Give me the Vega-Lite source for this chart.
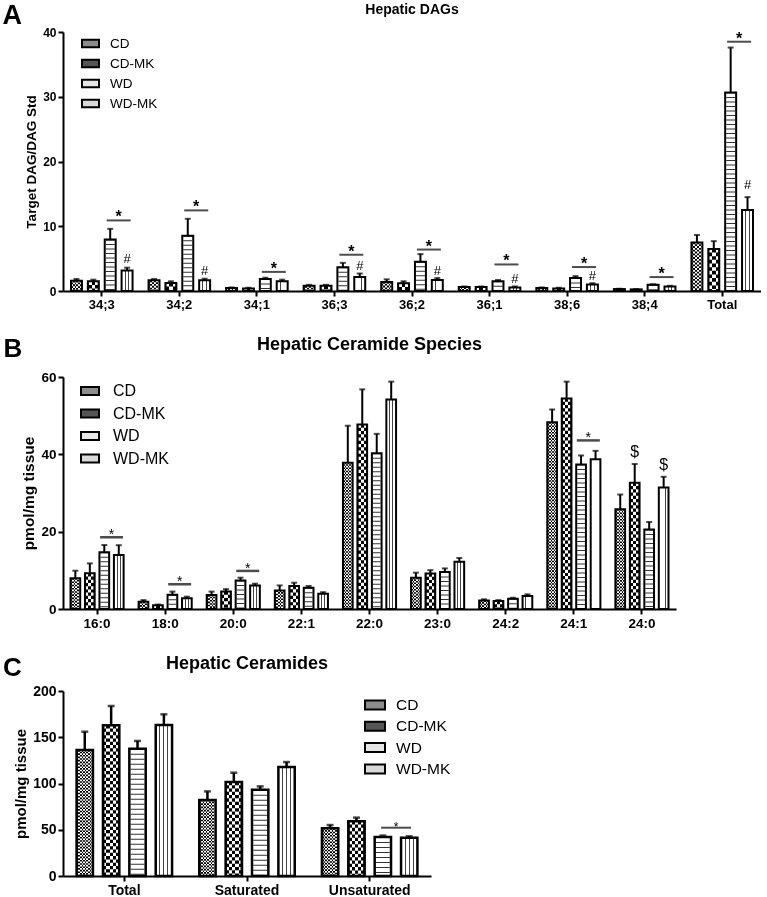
{
"$schema": "https://vega.github.io/schema/vega-lite/v6.json",
"background": "white",
"padding": {"left": 2, "top": 2, "right": 0, "bottom": 0},
"config": {
 "font": "Liberation Sans",
 "view": {"stroke": null},
 "axis": {"domainColor": "#000", "domainWidth": 2, "tickColor": "#000", "tickWidth": 2, "tickSize": 5, "labelColor": "#000", "labelFontWeight": "bold", "titleColor": "#000", "titleFontWeight": "bold", "grid": false, "labelFont": "Liberation Sans", "titleFont": "Liberation Sans"},
 "legend": {"labelFont": "Liberation Sans", "labelColor": "#000", "symbolStrokeColor": "#000", "symbolStrokeWidth": 2, "padding": 0},
 "title": {"font": "Liberation Sans", "color": "#000", "fontWeight": "bold"}
},
"datasets": {
 "dagBars": [
  {"cat": "34;3", "group": "CD", "value": 1.6, "upper": 1.85},
  {"cat": "34;3", "group": "CD-MK", "value": 1.5, "upper": 1.75},
  {"cat": "34;3", "group": "WD", "value": 7.95, "upper": 9.6},
  {"cat": "34;3", "group": "WD-MK", "value": 3.15, "upper": 3.6},
  {"cat": "34;2", "group": "CD", "value": 1.65, "upper": 1.85},
  {"cat": "34;2", "group": "CD-MK", "value": 1.25, "upper": 1.5},
  {"cat": "34;2", "group": "WD", "value": 8.55, "upper": 11.15},
  {"cat": "34;2", "group": "WD-MK", "value": 1.65, "upper": 1.9},
  {"cat": "34;1", "group": "CD", "value": 0.45, "upper": 0.55},
  {"cat": "34;1", "group": "CD-MK", "value": 0.4, "upper": 0.5},
  {"cat": "34;1", "group": "WD", "value": 1.85, "upper": 2.05},
  {"cat": "34;1", "group": "WD-MK", "value": 1.5, "upper": 1.75},
  {"cat": "36;3", "group": "CD", "value": 0.8, "upper": 0.95},
  {"cat": "36;3", "group": "CD-MK", "value": 0.8, "upper": 0.95},
  {"cat": "36;3", "group": "WD", "value": 3.65, "upper": 4.35},
  {"cat": "36;3", "group": "WD-MK", "value": 2.15, "upper": 2.7},
  {"cat": "36;2", "group": "CD", "value": 1.4, "upper": 1.8},
  {"cat": "36;2", "group": "CD-MK", "value": 1.2, "upper": 1.5},
  {"cat": "36;2", "group": "WD", "value": 4.5, "upper": 5.7},
  {"cat": "36;2", "group": "WD-MK", "value": 1.7, "upper": 2.0},
  {"cat": "36;1", "group": "CD", "value": 0.6, "upper": 0.7},
  {"cat": "36;1", "group": "CD-MK", "value": 0.6, "upper": 0.7},
  {"cat": "36;1", "group": "WD", "value": 1.5, "upper": 1.7},
  {"cat": "36;1", "group": "WD-MK", "value": 0.55, "upper": 0.7},
  {"cat": "38;6", "group": "CD", "value": 0.45, "upper": 0.55},
  {"cat": "38;6", "group": "CD-MK", "value": 0.4, "upper": 0.5},
  {"cat": "38;6", "group": "WD", "value": 2.0, "upper": 2.3},
  {"cat": "38;6", "group": "WD-MK", "value": 1.0, "upper": 1.2},
  {"cat": "38;4", "group": "CD", "value": 0.3, "upper": 0.35},
  {"cat": "38;4", "group": "CD-MK", "value": 0.25, "upper": 0.3},
  {"cat": "38;4", "group": "WD", "value": 0.95, "upper": 1.05},
  {"cat": "38;4", "group": "WD-MK", "value": 0.7, "upper": 0.8},
  {"cat": "Total", "group": "CD", "value": 7.5, "upper": 8.65},
  {"cat": "Total", "group": "CD-MK", "value": 6.5, "upper": 7.7},
  {"cat": "Total", "group": "WD", "value": 30.65, "upper": 37.6},
  {"cat": "Total", "group": "WD-MK", "value": 12.5, "upper": 14.5}
 ],
 "dagStar": [
  {"cat": "34;3", "y": 10.9}, {"cat": "34;2", "y": 12.45}, {"cat": "34;1", "y": 2.95},
  {"cat": "36;3", "y": 5.6}, {"cat": "36;2", "y": 6.4}, {"cat": "36;1", "y": 4.1},
  {"cat": "38;6", "y": 3.7}, {"cat": "38;4", "y": 2.15}, {"cat": "Total", "y": 38.5}
 ],
 "dagHash": [
  {"cat": "34;3", "group": "WD-MK", "y": 4.95}, {"cat": "34;2", "group": "WD-MK", "y": 3.05},
  {"cat": "36;3", "group": "WD-MK", "y": 3.8}, {"cat": "36;2", "group": "WD-MK", "y": 3.05},
  {"cat": "36;1", "group": "WD-MK", "y": 1.9}, {"cat": "38;6", "group": "WD-MK", "y": 2.25},
  {"cat": "Total", "group": "WD-MK", "y": 16.3}
 ],
 "cerBars": [
  {"cat": "16:0", "group": "CD", "value": 7.95, "upper": 9.9},
  {"cat": "16:0", "group": "CD-MK", "value": 9.25, "upper": 11.8},
  {"cat": "16:0", "group": "WD", "value": 14.65, "upper": 16.55},
  {"cat": "16:0", "group": "WD-MK", "value": 13.95, "upper": 16.5},
  {"cat": "18:0", "group": "CD", "value": 1.85, "upper": 2.3},
  {"cat": "18:0", "group": "CD-MK", "value": 1.0, "upper": 1.15},
  {"cat": "18:0", "group": "WD", "value": 3.7, "upper": 4.5},
  {"cat": "18:0", "group": "WD-MK", "value": 2.75, "upper": 3.2},
  {"cat": "20:0", "group": "CD", "value": 3.6, "upper": 4.5},
  {"cat": "20:0", "group": "CD-MK", "value": 4.5, "upper": 5.15},
  {"cat": "20:0", "group": "WD", "value": 7.35, "upper": 8.1},
  {"cat": "20:0", "group": "WD-MK", "value": 6.1, "upper": 6.55},
  {"cat": "22:1", "group": "CD", "value": 4.8, "upper": 6.1},
  {"cat": "22:1", "group": "CD-MK", "value": 5.95, "upper": 6.8},
  {"cat": "22:1", "group": "WD", "value": 5.5, "upper": 5.95},
  {"cat": "22:1", "group": "WD-MK", "value": 3.95, "upper": 4.35},
  {"cat": "22:0", "group": "CD", "value": 37.85, "upper": 47.4},
  {"cat": "22:0", "group": "CD-MK", "value": 47.7, "upper": 56.8},
  {"cat": "22:0", "group": "WD", "value": 40.3, "upper": 45.3},
  {"cat": "22:0", "group": "WD-MK", "value": 54.2, "upper": 58.8},
  {"cat": "23:0", "group": "CD", "value": 8.1, "upper": 9.4},
  {"cat": "23:0", "group": "CD-MK", "value": 9.2, "upper": 10.05},
  {"cat": "23:0", "group": "WD", "value": 9.6, "upper": 10.5},
  {"cat": "23:0", "group": "WD-MK", "value": 12.2, "upper": 13.2},
  {"cat": "24:2", "group": "CD", "value": 2.2, "upper": 2.5},
  {"cat": "24:2", "group": "CD-MK", "value": 2.05, "upper": 2.3},
  {"cat": "24:2", "group": "WD", "value": 2.65, "upper": 2.9},
  {"cat": "24:2", "group": "WD-MK", "value": 3.35, "upper": 3.8},
  {"cat": "24:1", "group": "CD", "value": 48.3, "upper": 51.6},
  {"cat": "24:1", "group": "CD-MK", "value": 54.45, "upper": 58.8},
  {"cat": "24:1", "group": "WD", "value": 37.4, "upper": 39.7},
  {"cat": "24:1", "group": "WD-MK", "value": 38.7, "upper": 40.9},
  {"cat": "24:0", "group": "CD", "value": 25.8, "upper": 29.6},
  {"cat": "24:0", "group": "CD-MK", "value": 32.65, "upper": 37.5},
  {"cat": "24:0", "group": "WD", "value": 20.55, "upper": 22.5},
  {"cat": "24:0", "group": "WD-MK", "value": 31.4, "upper": 34.2}
 ],
 "cerStar": [
  {"cat": "16:0", "y": 18.55}, {"cat": "18:0", "y": 6.4}, {"cat": "20:0", "y": 9.85}, {"cat": "24:1", "y": 43.6}
 ],
 "cerDollar": [
  {"cat": "24:0", "group": "CD-MK", "y": 40.7}, {"cat": "24:0", "group": "WD-MK", "y": 37.2}
 ],
 "totBars": [
  {"cat": "Total", "group": "CD", "value": 136.2, "upper": 156},
  {"cat": "Total", "group": "CD-MK", "value": 162.9, "upper": 183.8},
  {"cat": "Total", "group": "WD", "value": 137.7, "upper": 146},
  {"cat": "Total", "group": "WD-MK", "value": 163.2, "upper": 174.8},
  {"cat": "Saturated", "group": "CD", "value": 82.2, "upper": 91.5},
  {"cat": "Saturated", "group": "CD-MK", "value": 101.6, "upper": 111.7},
  {"cat": "Saturated", "group": "WD", "value": 93.3, "upper": 96.9},
  {"cat": "Saturated", "group": "WD-MK", "value": 117.8, "upper": 123.2},
  {"cat": "Unsaturated", "group": "CD", "value": 51.5, "upper": 55.1},
  {"cat": "Unsaturated", "group": "CD-MK", "value": 59.1, "upper": 63.1},
  {"cat": "Unsaturated", "group": "WD", "value": 42.2, "upper": 43.7},
  {"cat": "Unsaturated", "group": "WD-MK", "value": 41.4, "upper": 42.9}
 ],
 "totStar": [{"cat": "Unsaturated", "y": 52.2}]
},
"columns": 1,
"align": "none",
"spacing": 25,
"resolve": {"scale": {"fill": "independent", "xOffset": "independent"}, "legend": {"fill": "independent"}},
"concat": [
 {
  "title": {"text": "A", "orient": "left", "anchor": "end", "angle": 0, "align": "right", "baseline": "top", "fontSize": 27, "offset": -16.8, "frame": "bounds"},
  "vconcat": [{
   "title": {"text": "Hepatic DAGs", "fontSize": 14, "offset": 9},
   "width": 698, "height": 259,
   "data": {"name": "dagBars"},
   "layer": [
    {"mark": {"type": "bar"},
     "encoding": {
      "x": {"field": "cat", "type": "nominal", "sort": null, "scale": {"domain": ["34;3","34;2","34;1","36;3","36;2","36;1","38;6","38;4","Total"], "paddingInner": 0.13, "paddingOuter": 0.065}, "axis": {"title": null, "labelAngle": 0, "labelFontSize": 13, "labelPadding": 2}},
      "xOffset": {"field": "group", "type": "nominal", "sort": null, "scale": {"domain": ["CD","CD-MK","WD","WD-MK"], "paddingInner": 0.35, "paddingOuter": 0.175}},
      "y": {"field": "value", "type": "quantitative", "scale": {"domain": [0, 40], "nice": false}, "axis": {"title": "Target  DAG/DAG Std", "values": [0,10,20,30,40], "labelFontSize": 12, "titleFontSize": 13.5, "labelPadding": 2, "titlePadding": 4}},
      "fill": {"field": "group", "type": "nominal", "scale": {"domain": ["CD","CD-MK","WD","WD-MK"], "range": ["#8c8c8c","#555555","#e6e6e6","#d9d9d9"]},
       "legend": {"title": null, "orient": "none", "legendX": 18, "legendY": 2, "symbolType": "M-1,-0.45L1,-0.45L1,0.45L-1,0.45Z", "symbolSize": 289, "symbolStrokeColor": "#000", "symbolStrokeWidth": 2, "labelFontSize": 13.5, "labelOffset": 10, "rowPadding": 2}}
     }},
    {"mark": {"type": "bar"},
     "encoding": {
      "x": {"field": "cat", "type": "nominal", "sort": null, "scale": {"domain": ["34;3","34;2","34;1","36;3","36;2","36;1","38;6","38;4","Total"], "paddingInner": 0.13, "paddingOuter": 0.065}},
      "xOffset": {"field": "group", "type": "nominal", "sort": null, "scale": {"domain": ["CD","CD-MK","WD","WD-MK"], "paddingInner": 0.35, "paddingOuter": 0.175}},
      "y": {"field": "value", "type": "quantitative", "scale": {"domain": [0, 40], "nice": false}},
      "fill": {"condition": [
        {"test": "datum.group === 'CD'", "value": {"gradient": "linear", "x1": 0, "y1": 0, "x2": 1, "y2": 0, "stops": [{"offset": 0, "color": "#000"}, {"offset": 0.1667, "color": "#000"}, {"offset": 0.1667, "color": "#fff"}, {"offset": 0.3333, "color": "#fff"}, {"offset": 0.3333, "color": "#000"}, {"offset": 0.5, "color": "#000"}, {"offset": 0.5, "color": "#fff"}, {"offset": 0.6667, "color": "#fff"}, {"offset": 0.6667, "color": "#000"}, {"offset": 0.8333, "color": "#000"}, {"offset": 0.8333, "color": "#fff"}, {"offset": 1, "color": "#fff"}]}},
        {"test": "datum.group === 'CD-MK'", "value": {"gradient": "linear", "x1": 0, "y1": 0, "x2": 1, "y2": 0, "stops": [{"offset": 0, "color": "#000"}, {"offset": 0.3333, "color": "#000"}, {"offset": 0.3333, "color": "#fff"}, {"offset": 0.6667, "color": "#fff"}, {"offset": 0.6667, "color": "#000"}, {"offset": 1, "color": "#000"}]}},
        {"test": "datum.group === 'WD-MK'", "value": {"gradient": "linear", "x1": 0, "y1": 0, "x2": 1, "y2": 0, "stops": [{"offset": 0, "color": "#fff"}, {"offset": 0.3, "color": "#fff"}, {"offset": 0.3, "color": "#444"}, {"offset": 0.38, "color": "#444"}, {"offset": 0.38, "color": "#fff"}, {"offset": 0.62, "color": "#fff"}, {"offset": 0.62, "color": "#444"}, {"offset": 0.7, "color": "#444"}, {"offset": 0.7, "color": "#fff"}, {"offset": 1, "color": "#fff"}]}}
       ], "value": "#fff"}
     }},
    {"transform": [{"filter": "datum.group === 'WD'"}],
     "mark": {"type": "rule", "stroke": "#333", "strokeWidth": 9, "strokeDash": [1, 3.5]},
     "encoding": {
      "x": {"field": "cat", "type": "nominal", "sort": null, "scale": {"domain": ["34;3","34;2","34;1","36;3","36;2","36;1","38;6","38;4","Total"], "paddingInner": 0.13, "paddingOuter": 0.065}},
      "xOffset": {"field": "group", "type": "nominal", "sort": null, "scale": {"domain": ["CD","CD-MK","WD","WD-MK"], "paddingInner": 0.35, "paddingOuter": 0.175}},
      "y": {"field": "value", "type": "quantitative", "scale": {"domain": [0, 40], "nice": false}},
      "y2": {"datum": 0}
     }},
    {"transform": [{"filter": "datum.group === 'CD-MK'"}],
     "mark": {"type": "rule", "stroke": "#fff", "strokeWidth": 9, "strokeDash": [3.65, 3.65], "blend": "difference"},
     "encoding": {
      "x": {"field": "cat", "type": "nominal", "sort": null, "scale": {"domain": ["34;3","34;2","34;1","36;3","36;2","36;1","38;6","38;4","Total"], "paddingInner": 0.13, "paddingOuter": 0.065}},
      "xOffset": {"field": "group", "type": "nominal", "sort": null, "scale": {"domain": ["CD","CD-MK","WD","WD-MK"], "paddingInner": 0.35, "paddingOuter": 0.175}},
      "y": {"field": "value", "type": "quantitative", "scale": {"domain": [0, 40], "nice": false}},
      "y2": {"datum": 0}
     }},
    {"transform": [{"filter": "datum.group === 'CD'"}],
     "mark": {"type": "rule", "stroke": "#fff", "strokeWidth": 9, "strokeDash": [1.83, 1.83], "blend": "difference"},
     "encoding": {
      "x": {"field": "cat", "type": "nominal", "sort": null, "scale": {"domain": ["34;3","34;2","34;1","36;3","36;2","36;1","38;6","38;4","Total"], "paddingInner": 0.13, "paddingOuter": 0.065}},
      "xOffset": {"field": "group", "type": "nominal", "sort": null, "scale": {"domain": ["CD","CD-MK","WD","WD-MK"], "paddingInner": 0.35, "paddingOuter": 0.175}},
      "y": {"field": "value", "type": "quantitative", "scale": {"domain": [0, 40], "nice": false}},
      "y2": {"datum": 0}
     }},
    {"mark": {"type": "bar", "fill": "transparent", "stroke": "#000", "strokeWidth": 2},
     "encoding": {
      "x": {"field": "cat", "type": "nominal", "sort": null, "scale": {"domain": ["34;3","34;2","34;1","36;3","36;2","36;1","38;6","38;4","Total"], "paddingInner": 0.13, "paddingOuter": 0.065}},
      "xOffset": {"field": "group", "type": "nominal", "sort": null, "scale": {"domain": ["CD","CD-MK","WD","WD-MK"], "paddingInner": 0.35, "paddingOuter": 0.175}},
      "y": {"field": "value", "type": "quantitative", "scale": {"domain": [0, 40], "nice": false}}
     }},
    {"mark": {"type": "rule", "color": "#000", "strokeWidth": 2},
     "encoding": {
      "x": {"field": "cat", "type": "nominal", "sort": null, "scale": {"domain": ["34;3","34;2","34;1","36;3","36;2","36;1","38;6","38;4","Total"], "paddingInner": 0.13, "paddingOuter": 0.065}},
      "xOffset": {"field": "group", "type": "nominal", "sort": null, "scale": {"domain": ["CD","CD-MK","WD","WD-MK"], "paddingInner": 0.35, "paddingOuter": 0.175}},
      "y": {"field": "value", "type": "quantitative", "scale": {"domain": [0, 40], "nice": false}},
      "y2": {"field": "upper"}
     }},
    {"mark": {"type": "tick", "color": "#000", "thickness": 2, "size": 6},
     "encoding": {
      "x": {"field": "cat", "type": "nominal", "sort": null, "scale": {"domain": ["34;3","34;2","34;1","36;3","36;2","36;1","38;6","38;4","Total"], "paddingInner": 0.13, "paddingOuter": 0.065}},
      "xOffset": {"field": "group", "type": "nominal", "sort": null, "scale": {"domain": ["CD","CD-MK","WD","WD-MK"], "paddingInner": 0.35, "paddingOuter": 0.175}},
      "y": {"field": "upper", "type": "quantitative", "scale": {"domain": [0, 40], "nice": false}}
     }},
    {"data": {"name": "dagStar"},
     "mark": {"type": "tick", "color": "#000", "thickness": 2, "size": 24, "xOffset": 16.9},
     "encoding": {
      "x": {"field": "cat", "type": "nominal", "sort": null, "scale": {"domain": ["34;3","34;2","34;1","36;3","36;2","36;1","38;6","38;4","Total"], "paddingInner": 0.13, "paddingOuter": 0.065}},
      "y": {"field": "y", "type": "quantitative", "scale": {"domain": [0, 40], "nice": false}}
     }},
    {"data": {"name": "dagStar"},
     "mark": {"type": "text", "text": "*", "xOffset": 16.9, "dy": 2, "baseline": "alphabetic", "fontSize": 16, "fontWeight": "bold", "color": "#000"},
     "encoding": {
      "x": {"field": "cat", "type": "nominal", "sort": null, "scale": {"domain": ["34;3","34;2","34;1","36;3","36;2","36;1","38;6","38;4","Total"], "paddingInner": 0.13, "paddingOuter": 0.065}},
      "y": {"field": "y", "type": "quantitative", "scale": {"domain": [0, 40], "nice": false}}
     }},
    {"data": {"name": "dagHash"},
     "mark": {"type": "text", "text": "#", "baseline": "middle", "fontSize": 13, "color": "#000"},
     "encoding": {
      "x": {"field": "cat", "type": "nominal", "sort": null, "scale": {"domain": ["34;3","34;2","34;1","36;3","36;2","36;1","38;6","38;4","Total"], "paddingInner": 0.13, "paddingOuter": 0.065}},
      "xOffset": {"field": "group", "type": "nominal", "sort": null, "scale": {"domain": ["CD","CD-MK","WD","WD-MK"], "paddingInner": 0.35, "paddingOuter": 0.175}},
      "y": {"field": "y", "type": "quantitative", "scale": {"domain": [0, 40], "nice": false}}
     }}
   ]
  }]
 },
 {
  "title": {"text": "B", "orient": "left", "anchor": "end", "angle": 0, "align": "right", "baseline": "top", "fontSize": 26, "offset": -19.1, "frame": "bounds"},
  "vconcat": [{
   "title": {"text": "Hepatic Ceramide Species", "fontSize": 18, "offset": 16},
   "width": 613, "height": 232,
   "data": {"name": "cerBars"},
   "layer": [
    {"mark": {"type": "bar"},
     "encoding": {
      "x": {"field": "cat", "type": "nominal", "sort": null, "scale": {"domain": ["16:0","18:0","20:0","22:1","22:0","23:0","24:2","24:1","24:0"], "paddingInner": 0.15, "paddingOuter": 0.075}, "axis": {"title": null, "labelAngle": 0, "labelFontSize": 13.5, "labelPadding": 2}},
      "xOffset": {"field": "group", "type": "nominal", "sort": null, "scale": {"domain": ["CD","CD-MK","WD","WD-MK"], "paddingInner": 0.33, "paddingOuter": 0.165}},
      "y": {"field": "value", "type": "quantitative", "scale": {"domain": [0, 60], "nice": false}, "axis": {"title": "pmol/mg tissue", "values": [0,20,40,60], "labelFontSize": 13.5, "titleFontSize": 15.5, "labelPadding": 2, "titlePadding": 4}},
      "fill": {"field": "group", "type": "nominal", "scale": {"domain": ["CD","CD-MK","WD","WD-MK"], "range": ["#8c8c8c","#555555","#e6e6e6","#d9d9d9"]},
       "legend": {"title": null, "orient": "none", "legendX": 17, "legendY": 4, "symbolType": "M-1,-0.45L1,-0.45L1,0.45L-1,0.45Z", "symbolSize": 324, "symbolStrokeColor": "#000", "symbolStrokeWidth": 2, "labelFontSize": 16, "labelOffset": 13, "rowPadding": 3.5}}
     }},
    {"mark": {"type": "bar"},
     "encoding": {
      "x": {"field": "cat", "type": "nominal", "sort": null, "scale": {"domain": ["16:0","18:0","20:0","22:1","22:0","23:0","24:2","24:1","24:0"], "paddingInner": 0.15, "paddingOuter": 0.075}},
      "xOffset": {"field": "group", "type": "nominal", "sort": null, "scale": {"domain": ["CD","CD-MK","WD","WD-MK"], "paddingInner": 0.33, "paddingOuter": 0.165}},
      "y": {"field": "value", "type": "quantitative", "scale": {"domain": [0, 60], "nice": false}},
      "fill": {"condition": [
        {"test": "datum.group === 'CD'", "value": {"gradient": "linear", "x1": 0, "y1": 0, "x2": 1, "y2": 0, "stops": [{"offset": 0, "color": "#000"}, {"offset": 0.1667, "color": "#000"}, {"offset": 0.1667, "color": "#fff"}, {"offset": 0.3333, "color": "#fff"}, {"offset": 0.3333, "color": "#000"}, {"offset": 0.5, "color": "#000"}, {"offset": 0.5, "color": "#fff"}, {"offset": 0.6667, "color": "#fff"}, {"offset": 0.6667, "color": "#000"}, {"offset": 0.8333, "color": "#000"}, {"offset": 0.8333, "color": "#fff"}, {"offset": 1, "color": "#fff"}]}},
        {"test": "datum.group === 'CD-MK'", "value": {"gradient": "linear", "x1": 0, "y1": 0, "x2": 1, "y2": 0, "stops": [{"offset": 0, "color": "#000"}, {"offset": 0.3333, "color": "#000"}, {"offset": 0.3333, "color": "#fff"}, {"offset": 0.6667, "color": "#fff"}, {"offset": 0.6667, "color": "#000"}, {"offset": 1, "color": "#000"}]}},
        {"test": "datum.group === 'WD-MK'", "value": {"gradient": "linear", "x1": 0, "y1": 0, "x2": 1, "y2": 0, "stops": [{"offset": 0, "color": "#fff"}, {"offset": 0.3, "color": "#fff"}, {"offset": 0.3, "color": "#444"}, {"offset": 0.38, "color": "#444"}, {"offset": 0.38, "color": "#fff"}, {"offset": 0.62, "color": "#fff"}, {"offset": 0.62, "color": "#444"}, {"offset": 0.7, "color": "#444"}, {"offset": 0.7, "color": "#fff"}, {"offset": 1, "color": "#fff"}]}}
       ], "value": "#fff"}
     }},
    {"transform": [{"filter": "datum.group === 'WD'"}],
     "mark": {"type": "rule", "stroke": "#333", "strokeWidth": 7.7, "strokeDash": [1, 3.5]},
     "encoding": {
      "x": {"field": "cat", "type": "nominal", "sort": null, "scale": {"domain": ["16:0","18:0","20:0","22:1","22:0","23:0","24:2","24:1","24:0"], "paddingInner": 0.15, "paddingOuter": 0.075}},
      "xOffset": {"field": "group", "type": "nominal", "sort": null, "scale": {"domain": ["CD","CD-MK","WD","WD-MK"], "paddingInner": 0.33, "paddingOuter": 0.165}},
      "y": {"field": "value", "type": "quantitative", "scale": {"domain": [0, 60], "nice": false}},
      "y2": {"datum": 0}
     }},
    {"transform": [{"filter": "datum.group === 'CD-MK'"}],
     "mark": {"type": "rule", "stroke": "#fff", "strokeWidth": 7.7, "strokeDash": [3.23, 3.23], "blend": "difference"},
     "encoding": {
      "x": {"field": "cat", "type": "nominal", "sort": null, "scale": {"domain": ["16:0","18:0","20:0","22:1","22:0","23:0","24:2","24:1","24:0"], "paddingInner": 0.15, "paddingOuter": 0.075}},
      "xOffset": {"field": "group", "type": "nominal", "sort": null, "scale": {"domain": ["CD","CD-MK","WD","WD-MK"], "paddingInner": 0.33, "paddingOuter": 0.165}},
      "y": {"field": "value", "type": "quantitative", "scale": {"domain": [0, 60], "nice": false}},
      "y2": {"datum": 0}
     }},
    {"transform": [{"filter": "datum.group === 'CD'"}],
     "mark": {"type": "rule", "stroke": "#fff", "strokeWidth": 7.7, "strokeDash": [1.61, 1.61], "blend": "difference"},
     "encoding": {
      "x": {"field": "cat", "type": "nominal", "sort": null, "scale": {"domain": ["16:0","18:0","20:0","22:1","22:0","23:0","24:2","24:1","24:0"], "paddingInner": 0.15, "paddingOuter": 0.075}},
      "xOffset": {"field": "group", "type": "nominal", "sort": null, "scale": {"domain": ["CD","CD-MK","WD","WD-MK"], "paddingInner": 0.33, "paddingOuter": 0.165}},
      "y": {"field": "value", "type": "quantitative", "scale": {"domain": [0, 60], "nice": false}},
      "y2": {"datum": 0}
     }},
    {"mark": {"type": "bar", "fill": "transparent", "stroke": "#000", "strokeWidth": 2},
     "encoding": {
      "x": {"field": "cat", "type": "nominal", "sort": null, "scale": {"domain": ["16:0","18:0","20:0","22:1","22:0","23:0","24:2","24:1","24:0"], "paddingInner": 0.15, "paddingOuter": 0.075}},
      "xOffset": {"field": "group", "type": "nominal", "sort": null, "scale": {"domain": ["CD","CD-MK","WD","WD-MK"], "paddingInner": 0.33, "paddingOuter": 0.165}},
      "y": {"field": "value", "type": "quantitative", "scale": {"domain": [0, 60], "nice": false}}
     }},
    {"mark": {"type": "rule", "color": "#000", "strokeWidth": 2},
     "encoding": {
      "x": {"field": "cat", "type": "nominal", "sort": null, "scale": {"domain": ["16:0","18:0","20:0","22:1","22:0","23:0","24:2","24:1","24:0"], "paddingInner": 0.15, "paddingOuter": 0.075}},
      "xOffset": {"field": "group", "type": "nominal", "sort": null, "scale": {"domain": ["CD","CD-MK","WD","WD-MK"], "paddingInner": 0.33, "paddingOuter": 0.165}},
      "y": {"field": "value", "type": "quantitative", "scale": {"domain": [0, 60], "nice": false}},
      "y2": {"field": "upper"}
     }},
    {"mark": {"type": "tick", "color": "#000", "thickness": 2, "size": 6},
     "encoding": {
      "x": {"field": "cat", "type": "nominal", "sort": null, "scale": {"domain": ["16:0","18:0","20:0","22:1","22:0","23:0","24:2","24:1","24:0"], "paddingInner": 0.15, "paddingOuter": 0.075}},
      "xOffset": {"field": "group", "type": "nominal", "sort": null, "scale": {"domain": ["CD","CD-MK","WD","WD-MK"], "paddingInner": 0.33, "paddingOuter": 0.165}},
      "y": {"field": "upper", "type": "quantitative", "scale": {"domain": [0, 60], "nice": false}}
     }},
    {"data": {"name": "cerStar"},
     "mark": {"type": "tick", "color": "#000", "thickness": 2.5, "size": 23, "xOffset": 14.5},
     "encoding": {
      "x": {"field": "cat", "type": "nominal", "sort": null, "scale": {"domain": ["16:0","18:0","20:0","22:1","22:0","23:0","24:2","24:1","24:0"], "paddingInner": 0.15, "paddingOuter": 0.075}},
      "y": {"field": "y", "type": "quantitative", "scale": {"domain": [0, 60], "nice": false}}
     }},
    {"data": {"name": "cerStar"},
     "mark": {"type": "text", "text": "*", "xOffset": 14.5, "dy": 2, "baseline": "alphabetic", "fontSize": 14, "color": "#000"},
     "encoding": {
      "x": {"field": "cat", "type": "nominal", "sort": null, "scale": {"domain": ["16:0","18:0","20:0","22:1","22:0","23:0","24:2","24:1","24:0"], "paddingInner": 0.15, "paddingOuter": 0.075}},
      "y": {"field": "y", "type": "quantitative", "scale": {"domain": [0, 60], "nice": false}}
     }},
    {"data": {"name": "cerDollar"},
     "mark": {"type": "text", "text": "$", "baseline": "middle", "fontSize": 16, "color": "#000"},
     "encoding": {
      "x": {"field": "cat", "type": "nominal", "sort": null, "scale": {"domain": ["16:0","18:0","20:0","22:1","22:0","23:0","24:2","24:1","24:0"], "paddingInner": 0.15, "paddingOuter": 0.075}},
      "xOffset": {"field": "group", "type": "nominal", "sort": null, "scale": {"domain": ["CD","CD-MK","WD","WD-MK"], "paddingInner": 0.33, "paddingOuter": 0.165}},
      "y": {"field": "y", "type": "quantitative", "scale": {"domain": [0, 60], "nice": false}}
     }}
   ]
  }]
 },
 {
  "title": {"text": "C", "orient": "left", "anchor": "end", "angle": 0, "align": "right", "baseline": "top", "fontSize": 26, "offset": -27, "frame": "bounds"},
  "vconcat": [{
   "title": {"text": "Hepatic Ceramides", "fontSize": 18, "offset": 11},
   "width": 368, "height": 185,
   "data": {"name": "totBars"},
   "layer": [
    {"mark": {"type": "bar"},
     "encoding": {
      "x": {"field": "cat", "type": "nominal", "sort": null, "scale": {"domain": ["Total","Saturated","Unsaturated"], "paddingInner": 0.14, "paddingOuter": 0.07}, "axis": {"title": null, "labelAngle": 0, "labelFontSize": 14, "labelPadding": 2}},
      "xOffset": {"field": "group", "type": "nominal", "sort": null, "scale": {"domain": ["CD","CD-MK","WD","WD-MK"], "paddingInner": 0.38, "paddingOuter": 0.19}},
      "y": {"field": "value", "type": "quantitative", "scale": {"domain": [0, 200], "nice": false}, "axis": {"title": "pmol/mg tissue", "values": [0,50,100,150,200], "labelFontSize": 14, "titleFontSize": 15, "labelPadding": 2, "titlePadding": 4}},
      "fill": {"field": "group", "type": "nominal", "scale": {"domain": ["CD","CD-MK","WD","WD-MK"], "range": ["#8c8c8c","#555555","#e6e6e6","#d9d9d9"]},
       "legend": {"title": null, "orient": "none", "legendX": 301, "legendY": 3, "symbolType": "M-1,-0.45L1,-0.45L1,0.45L-1,0.45Z", "symbolSize": 400, "symbolStrokeColor": "#000", "symbolStrokeWidth": 2, "labelFontSize": 15.5, "labelOffset": 10, "rowPadding": 1.3}}
     }},
    {"mark": {"type": "bar"},
     "encoding": {
      "x": {"field": "cat", "type": "nominal", "sort": null, "scale": {"domain": ["Total","Saturated","Unsaturated"], "paddingInner": 0.14, "paddingOuter": 0.07}},
      "xOffset": {"field": "group", "type": "nominal", "sort": null, "scale": {"domain": ["CD","CD-MK","WD","WD-MK"], "paddingInner": 0.38, "paddingOuter": 0.19}},
      "y": {"field": "value", "type": "quantitative", "scale": {"domain": [0, 200], "nice": false}},
      "fill": {"condition": [
        {"test": "datum.group === 'CD'", "value": {"gradient": "linear", "x1": 0, "y1": 0, "x2": 1, "y2": 0, "stops": [{"offset": 0, "color": "#000"}, {"offset": 0.1, "color": "#000"}, {"offset": 0.1, "color": "#fff"}, {"offset": 0.2, "color": "#fff"}, {"offset": 0.2, "color": "#000"}, {"offset": 0.3, "color": "#000"}, {"offset": 0.3, "color": "#fff"}, {"offset": 0.4, "color": "#fff"}, {"offset": 0.4, "color": "#000"}, {"offset": 0.5, "color": "#000"}, {"offset": 0.5, "color": "#fff"}, {"offset": 0.6, "color": "#fff"}, {"offset": 0.6, "color": "#000"}, {"offset": 0.7, "color": "#000"}, {"offset": 0.7, "color": "#fff"}, {"offset": 0.8, "color": "#fff"}, {"offset": 0.8, "color": "#000"}, {"offset": 0.9, "color": "#000"}, {"offset": 0.9, "color": "#fff"}, {"offset": 1, "color": "#fff"}]}},
        {"test": "datum.group === 'CD-MK'", "value": {"gradient": "linear", "x1": 0, "y1": 0, "x2": 1, "y2": 0, "stops": [{"offset": 0, "color": "#000"}, {"offset": 0.2, "color": "#000"}, {"offset": 0.2, "color": "#fff"}, {"offset": 0.4, "color": "#fff"}, {"offset": 0.4, "color": "#000"}, {"offset": 0.6, "color": "#000"}, {"offset": 0.6, "color": "#fff"}, {"offset": 0.8, "color": "#fff"}, {"offset": 0.8, "color": "#000"}, {"offset": 1, "color": "#000"}]}},
        {"test": "datum.group === 'WD-MK'", "value": {"gradient": "linear", "x1": 0, "y1": 0, "x2": 1, "y2": 0, "stops": [{"offset": 0, "color": "#fff"}, {"offset": 0.22, "color": "#fff"}, {"offset": 0.22, "color": "#444"}, {"offset": 0.28, "color": "#444"}, {"offset": 0.28, "color": "#fff"}, {"offset": 0.47, "color": "#fff"}, {"offset": 0.47, "color": "#444"}, {"offset": 0.53, "color": "#444"}, {"offset": 0.53, "color": "#fff"}, {"offset": 0.72, "color": "#fff"}, {"offset": 0.72, "color": "#444"}, {"offset": 0.78, "color": "#444"}, {"offset": 0.78, "color": "#fff"}, {"offset": 1, "color": "#fff"}]}}
       ], "value": "#fff"}
     }},
    {"transform": [{"filter": "datum.group === 'WD'"}],
     "mark": {"type": "rule", "stroke": "#333", "strokeWidth": 13.8, "strokeDash": [1, 4]},
     "encoding": {
      "x": {"field": "cat", "type": "nominal", "sort": null, "scale": {"domain": ["Total","Saturated","Unsaturated"], "paddingInner": 0.14, "paddingOuter": 0.07}},
      "xOffset": {"field": "group", "type": "nominal", "sort": null, "scale": {"domain": ["CD","CD-MK","WD","WD-MK"], "paddingInner": 0.38, "paddingOuter": 0.19}},
      "y": {"field": "value", "type": "quantitative", "scale": {"domain": [0, 200], "nice": false}},
      "y2": {"datum": 0}
     }},
    {"transform": [{"filter": "datum.group === 'CD-MK'"}],
     "mark": {"type": "rule", "stroke": "#fff", "strokeWidth": 13.8, "strokeDash": [3.27, 3.27], "blend": "difference"},
     "encoding": {
      "x": {"field": "cat", "type": "nominal", "sort": null, "scale": {"domain": ["Total","Saturated","Unsaturated"], "paddingInner": 0.14, "paddingOuter": 0.07}},
      "xOffset": {"field": "group", "type": "nominal", "sort": null, "scale": {"domain": ["CD","CD-MK","WD","WD-MK"], "paddingInner": 0.38, "paddingOuter": 0.19}},
      "y": {"field": "value", "type": "quantitative", "scale": {"domain": [0, 200], "nice": false}},
      "y2": {"datum": 0}
     }},
    {"transform": [{"filter": "datum.group === 'CD'"}],
     "mark": {"type": "rule", "stroke": "#fff", "strokeWidth": 13.8, "strokeDash": [1.64, 1.64], "blend": "difference"},
     "encoding": {
      "x": {"field": "cat", "type": "nominal", "sort": null, "scale": {"domain": ["Total","Saturated","Unsaturated"], "paddingInner": 0.14, "paddingOuter": 0.07}},
      "xOffset": {"field": "group", "type": "nominal", "sort": null, "scale": {"domain": ["CD","CD-MK","WD","WD-MK"], "paddingInner": 0.38, "paddingOuter": 0.19}},
      "y": {"field": "value", "type": "quantitative", "scale": {"domain": [0, 200], "nice": false}},
      "y2": {"datum": 0}
     }},
    {"mark": {"type": "bar", "fill": "transparent", "stroke": "#000", "strokeWidth": 2.5},
     "encoding": {
      "x": {"field": "cat", "type": "nominal", "sort": null, "scale": {"domain": ["Total","Saturated","Unsaturated"], "paddingInner": 0.14, "paddingOuter": 0.07}},
      "xOffset": {"field": "group", "type": "nominal", "sort": null, "scale": {"domain": ["CD","CD-MK","WD","WD-MK"], "paddingInner": 0.38, "paddingOuter": 0.19}},
      "y": {"field": "value", "type": "quantitative", "scale": {"domain": [0, 200], "nice": false}}
     }},
    {"mark": {"type": "rule", "color": "#000", "strokeWidth": 2.5},
     "encoding": {
      "x": {"field": "cat", "type": "nominal", "sort": null, "scale": {"domain": ["Total","Saturated","Unsaturated"], "paddingInner": 0.14, "paddingOuter": 0.07}},
      "xOffset": {"field": "group", "type": "nominal", "sort": null, "scale": {"domain": ["CD","CD-MK","WD","WD-MK"], "paddingInner": 0.38, "paddingOuter": 0.19}},
      "y": {"field": "value", "type": "quantitative", "scale": {"domain": [0, 200], "nice": false}},
      "y2": {"field": "upper"}
     }},
    {"mark": {"type": "tick", "color": "#000", "thickness": 2.5, "size": 7},
     "encoding": {
      "x": {"field": "cat", "type": "nominal", "sort": null, "scale": {"domain": ["Total","Saturated","Unsaturated"], "paddingInner": 0.14, "paddingOuter": 0.07}},
      "xOffset": {"field": "group", "type": "nominal", "sort": null, "scale": {"domain": ["CD","CD-MK","WD","WD-MK"], "paddingInner": 0.38, "paddingOuter": 0.19}},
      "y": {"field": "upper", "type": "quantitative", "scale": {"domain": [0, 200], "nice": false}}
     }},
    {"data": {"name": "totStar"},
     "mark": {"type": "tick", "color": "#000", "thickness": 2, "size": 30, "xOffset": 26.4},
     "encoding": {
      "x": {"field": "cat", "type": "nominal", "sort": null, "scale": {"domain": ["Total","Saturated","Unsaturated"], "paddingInner": 0.14, "paddingOuter": 0.07}},
      "y": {"field": "y", "type": "quantitative", "scale": {"domain": [0, 200], "nice": false}}
     }},
    {"data": {"name": "totStar"},
     "mark": {"type": "text", "text": "*", "xOffset": 26.4, "dy": 3, "baseline": "alphabetic", "fontSize": 12, "color": "#000"},
     "encoding": {
      "x": {"field": "cat", "type": "nominal", "sort": null, "scale": {"domain": ["Total","Saturated","Unsaturated"], "paddingInner": 0.14, "paddingOuter": 0.07}},
      "y": {"field": "y", "type": "quantitative", "scale": {"domain": [0, 200], "nice": false}}
     }}
   ]
  }]
 }
]
}
